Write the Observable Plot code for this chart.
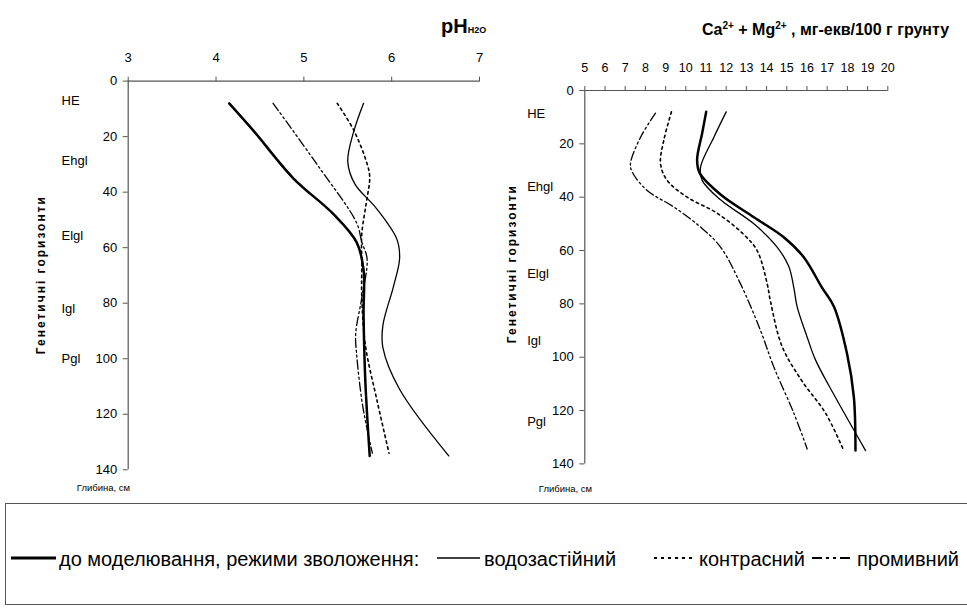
<!DOCTYPE html>
<html><head><meta charset="utf-8">
<script src="https://cdn.jsdelivr.net/npm/d3@7"></script>
<script src="https://cdn.jsdelivr.net/npm/@observablehq/plot@0.6"></script>
<style>
body{margin:0;background:#fff;width:967px;height:609px;overflow:hidden;position:relative;font-family:"Liberation Sans Narrow","Arial Narrow","Liberation Sans",Arial,sans-serif;color:#000}
.abs{position:absolute;white-space:nowrap;color:#000}
.ttl{font-weight:bold;line-height:1}
#legend{position:absolute;left:5px;top:503px;width:990px;height:102px;border:1px solid #555;box-sizing:border-box}
.lt{position:absolute;top:44px;font-size:20px;line-height:22px;white-space:nowrap}
</style></head><body>
<div id="left" class="abs" style="left:0;top:0"></div>
<div id="right" class="abs" style="left:480px;top:0"></div>
<div class="abs ttl" style="left:441px;top:16px;font-size:20px">pH<span style="font-size:9px">H2O</span></div>
<div class="abs ttl" style="left:702px;top:21px;font-size:16px">Ca<sup style="font-size:10px">2+</sup> + Mg<sup style="font-size:10px">2+</sup> , мг-екв/100 г грунту</div>
<div id="legend"></div>
<script>
// ---- data ----
const phTicks = [3, 4, 5, 6, 7];
const caTicks = [5, 6, 7, 8, 9, 10, 11, 12, 13, 14, 15, 16, 17, 18, 19, 20];
const depthTicks = [0, 20, 40, 60, 80, 100, 120, 140];
const seriesNames = ["до моделювання, режими зволоження:", "водозастійний", "контрасний", "промивний"];

const horizonNames = ["HE", "Ehgl", "Elgl", "Igl", "Pgl"];
const horizonDepthLeft = [7, 28.6, 55.6, 82, 100];
const horizonDepthRight = [8.7, 36.3, 68.7, 93.7, 124.4];

// pH (left chart)
const phBeforeDepth = [8, 18, 35, 48, 58, 68, 84, 108, 135];
const phBefore = [4.15, 4.43, 4.88, 5.34, 5.60, 5.68, 5.68, 5.70, 5.75];
const phWaterlogDepth = [8, 19, 29, 37, 46, 57, 64, 74, 88, 96, 111, 135];
const phWaterlog = [5.68, 5.56, 5.50, 5.58, 5.83, 6.06, 6.09, 6.02, 5.90, 5.90, 6.09, 6.65];
const phContrastDepth = [8, 17.8, 29.8, 34.6, 44, 55, 66, 78, 95, 116, 134];
const phContrast = [5.38, 5.57, 5.72, 5.75, 5.71, 5.66, 5.66, 5.66, 5.70, 5.84, 5.97];
const phLeachDepth = [8, 30, 51, 58, 64, 78, 91, 98, 117, 134];
const phLeach = [4.65, 5.15, 5.60, 5.66, 5.72, 5.66, 5.59, 5.60, 5.67, 5.78];

// Ca2+ + Mg2+ (right chart)
const caBeforeDepth = [8, 16, 26, 31, 39, 47.5, 55, 62.5, 74, 81, 99, 115, 135];
const caBefore = [11.01, 10.81, 10.56, 10.69, 11.72, 13.37, 14.85, 15.84, 16.75, 17.33, 17.99, 18.32, 18.40];
const caWaterlogDepth = [8, 17.5, 28.7, 33.7, 41, 50, 58.7, 66, 74, 81, 92.5, 101, 114, 135];
const caWaterlog = [12.0, 11.39, 10.73, 10.81, 11.72, 13.37, 14.52, 15.10, 15.35, 15.51, 16.01, 16.42, 17.33, 18.90];
const caContrastDepth = [8, 18.7, 27.5, 33.7, 40, 46, 54, 60, 72.5, 79, 96, 109, 121, 135];
const caContrast = [9.29, 8.91, 8.75, 9.08, 10.07, 11.55, 12.87, 13.53, 14.03, 14.19, 14.77, 15.76, 16.92, 17.82];
const caLeachDepth = [8.5, 17.5, 27.5, 30.6, 37.5, 43.7, 51.2, 58.7, 72.5, 90, 103.7, 121, 134.4];
const caLeach = [8.50, 7.76, 7.26, 7.35, 8.09, 9.41, 10.73, 11.72, 12.71, 13.70, 14.36, 15.35, 16.01];

// ---- styles ----
const styles = [
  {strokeWidth: 2.5},
  {strokeWidth: 1.3},
  {strokeWidth: 1.6, strokeDasharray: "2.5,3.5"},
  {strokeWidth: 1.3, strokeDasharray: "9,3,2,3,2,3"}
];
const FONT = '"Liberation Sans Narrow","Arial Narrow","Liberation Sans",Arial,sans-serif';

function rows(depth, vals) { return depth.map((d, i) => ({depth: d, v: vals[i]})); }

function chart(cfg) {
  const lines = cfg.series.map((s, i) => Plot.line(rows(s[0], s[1]), {
    x: "v", y: "depth", curve: "catmull-rom", stroke: "black", ...styles[i]
  }));
  const hz = horizonNames.map((n, i) => ({name: n, depth: cfg.hDepth[i]}));
  const svg = Plot.plot({
    width: cfg.width, height: 500,
    marginLeft: cfg.ml, marginRight: cfg.mr, marginTop: cfg.mt, marginBottom: cfg.mb,
    x: {domain: cfg.xDomain, axis: null},
    y: {domain: [0, 140], reverse: true, axis: null},
    style: {fontFamily: FONT, fontSize: "13px", color: "#000", background: "transparent"},
    marks: [
      Plot.axisX({anchor: "top", ticks: cfg.xTicks, tickFormat: d => String(d), label: null, tickSize: 5, tickPadding: 14, fontSize: cfg.xFont, stroke: "#555"}),
      Plot.axisY({ticks: depthTicks, tickFormat: d => String(d), label: null, tickSize: 5, tickPadding: 6, fontSize: 13, stroke: "#555"}),
      Plot.ruleY([0], {stroke: "#555", strokeWidth: 1.2}),
      Plot.ruleX([cfg.xDomain[0]], {stroke: "#555", strokeWidth: 1.2}),
      ...lines,
      Plot.text(hz, {y: "depth", text: "name", frameAnchor: "left", dx: cfg.hDx, textAnchor: "start", fontSize: 13}),
      Plot.text(["Генетичні горизонти"], {y: [cfg.titleDepth], text: d => d, frameAnchor: "left", textAnchor: "middle", dx: cfg.titleDx, rotate: -90, fontSize: 12, fontWeight: "bold"}),
      Plot.text(["Глибина, см"], {y: [140], text: d => d, frameAnchor: "left", textAnchor: "middle", dx: cfg.depDx, dy: cfg.depDy, fontSize: 9.5})
    ]
  });
  d3.select(svg).selectAll("text").filter(function() { return this.textContent === "Генетичні горизонти"; }).style("letter-spacing", "2px");
  return svg;
}

document.getElementById("left").appendChild(chart({
  width: 490, ml: 127.7, mr: 11, mt: 80.6, mb: 30.7,
  xDomain: [3, 7], xTicks: phTicks, xFont: 13,
  series: [[phBeforeDepth, phBefore], [phWaterlogDepth, phWaterlog], [phContrastDepth, phContrast], [phLeachDepth, phLeach]],
  hDepth: horizonDepthLeft, hDx: -66.7, titleDepth: 69.7, titleDx: -86.7, depDx: -24.7, depDy: 17.7
}));
document.getElementById("right").appendChild(chart({
  width: 487, ml: 104.3, mr: 79.7, mt: 90, mb: 36.6,
  xDomain: [5, 20], xTicks: caTicks, xFont: 12.5,
  series: [[caBeforeDepth, caBefore], [caWaterlogDepth, caWaterlog], [caContrastDepth, caContrast], [caLeachDepth, caLeach]],
  hDepth: horizonDepthRight, hDx: -57.6, titleDepth: 64.9, titleDx: -72.3, depDx: -19.3, depDy: 24.6
}));

// legend (positions are relative to the legend box, which starts at x=5)
const legend = document.getElementById("legend");
const items = [
  {x0: 5, x1: 50, tx: 53},
  {x0: 431, x1: 474, tx: 478},
  {x0: 648, x1: 688, tx: 693},
  {x0: 806, x1: 846, tx: 851}
];
const legendStyles = [
  {w: 3, dash: null},
  {w: 1.5, dash: null},
  {w: 2.2, dash: "3,4"},
  {w: 2.2, dash: "10,4,3,4,3,4"}
];
items.forEach((it, i) => {
  const s = d3.select(legend).append("svg").style("position", "absolute")
    .style("left", it.x0 + "px").style("top", "50px").attr("width", it.x1 - it.x0).attr("height", 8);
  s.append("line").attr("x1", 0).attr("x2", it.x1 - it.x0).attr("y1", 4).attr("y2", 4)
    .attr("stroke", "#000").attr("stroke-width", legendStyles[i].w)
    .attr("stroke-dasharray", legendStyles[i].dash);
  d3.select(legend).append("div").attr("class", "lt").style("left", it.tx + "px").text(seriesNames[i]);
});
</script>
</body></html>
